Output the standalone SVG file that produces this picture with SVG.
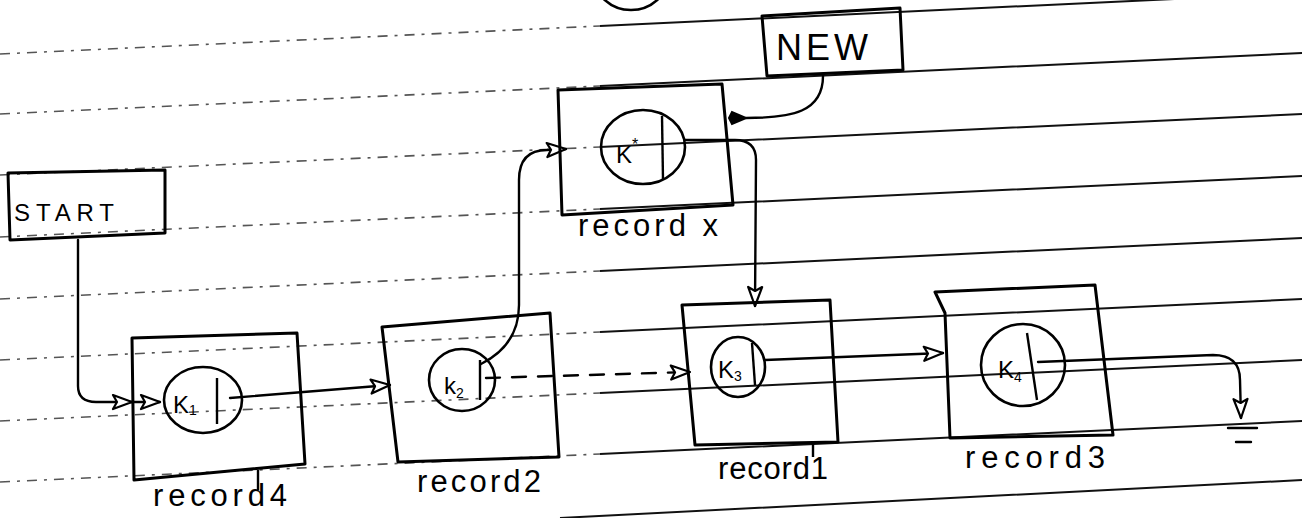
<svg xmlns="http://www.w3.org/2000/svg" width="1302" height="518" viewBox="0 0 1302 518">
<defs>
<style>
.rule-d{stroke:#555;stroke-width:1.6;stroke-dasharray:10 7 3 7;fill:none}
.rule-s{stroke:#111;stroke-width:2;fill:none}
.box{fill:none;stroke:#000;stroke-width:3;stroke-linejoin:round}
.circ{fill:none;stroke:#000;stroke-width:2.6}
.div{stroke:#000;stroke-width:2.4}
.wire{fill:none;stroke:#000;stroke-width:2.4;stroke-linecap:round}
.dash{stroke-dasharray:14 12}
.lbl{font-family:"Liberation Sans",Arial,sans-serif;font-size:31px;fill:#000}
.key{font-family:"Liberation Sans",Arial,sans-serif;font-size:24px;fill:#000}
.cap{font-family:"Liberation Sans",Arial,sans-serif;fill:#000}
</style>
<marker id="open" viewBox="0 0 22 18" refX="21" refY="9" markerWidth="22" markerHeight="18" markerUnits="userSpaceOnUse" orient="auto">
<path d="M2,2 L21,9 L2,16 L6,9 Z" fill="#fff" stroke="#000" stroke-width="2.2" stroke-linejoin="round"/>
</marker>
<marker id="solid" viewBox="0 0 20 16" refX="2" refY="8" markerWidth="20" markerHeight="16" markerUnits="userSpaceOnUse" orient="auto-start-reverse">
<path d="M2,8 L16,2 L19,8 L16,14 Z" fill="#000" stroke="#000" stroke-width="2"/>
</marker>
</defs>
<rect width="1302" height="518" fill="#fff"/>
<g id="ruled-lines">
<path class="rule-d" d="M0,54 L600,26 M0,114 L600,86 M0,175 L600,147 M0,237 L600,209 M0,299 L600,271 M0,360 L600,332 M0,421 L600,393 M0,482 L600,454"/>
<path class="rule-s" d="M600,26 L1302,-7 M600,86 L1302,53 M600,147 L1302,114 M600,209 L1302,176 M600,271 L1302,238 M600,332 L1302,299 M600,393 L1302,360 M600,454 L1302,421 M560,518 L1302,480"/>
<ellipse cx="631" cy="-24" rx="37" ry="34" fill="none" stroke="#000" stroke-width="2.6"/>
</g>
<g id="connectors">
<path class="wire" d="M78,240 L78,386 Q78,402 96,402 L132,402" marker-end="url(#open)"/>
<path class="wire" d="M132,402 L160,402" marker-end="url(#open)"/>
<path class="wire" d="M230,398 L390,385" marker-end="url(#open)"/>
<path class="wire" d="M481,364 C505,352 519,334 519,305 L519,180 Q519,150 547,150 L566,149" marker-end="url(#open)"/>
<path class="wire dash" d="M486,378 L690,372" marker-end="url(#open)"/>
<path class="wire" d="M685,140 L735,140 Q756,140 756,160 L755,306" marker-end="url(#open)"/>
<path class="wire" d="M823,76 C823,112 792,118 746,118" marker-end="url(#solid)"/>
<path class="wire" d="M765,360 L943,353" marker-end="url(#open)"/>
<path class="wire" d="M1038,362 L1213,355 Q1240,355 1240,380 L1241,418" marker-end="url(#open)"/>
<path class="wire" d="M1228,428 L1257,428 M1236,442 L1251,442"/>
</g>
<g id="start">
<path class="box" d="M8,173 L165,170 L165,233 L10,240 Z"/>
<text class="cap" x="14" y="221" font-size="24" textLength="100" lengthAdjust="spacing">START</text>
</g>
<g id="new">
<path class="box" d="M762,16 L900,8 L903,70 L767,76 Z"/>
<text class="cap" x="776" y="60" font-size="36" textLength="92" lengthAdjust="spacing">NEW</text>
</g>
<g id="record-x">
<path class="box" d="M558,90 L722,84 L733,205 L562,215 Z"/>
<ellipse class="circ" cx="643" cy="147" rx="42" ry="37"/>
<line class="div" x1="662" y1="116" x2="663" y2="180"/>
<text class="key" x="616" y="163">K<tspan font-size="16" dy="-13">*</tspan></text>
<text class="lbl" x="578" y="236" textLength="140" lengthAdjust="spacing">record x</text>
</g>
<g id="record4">
<path class="box" d="M132,338 L297,333 L305,464 L134,480 Z"/>
<ellipse class="circ" cx="203" cy="400" rx="39" ry="33"/>
<line class="div" x1="217" y1="378" x2="217" y2="424"/>
<text class="key" x="173" y="413">K<tspan font-size="14" dy="2">1</tspan></text>
<line class="div" x1="258" y1="470" x2="258" y2="490"/>
<text class="lbl" x="153" y="506" textLength="134" lengthAdjust="spacing">record4</text>
</g>
<g id="record2">
<path class="box" d="M382,327 L550,313 L559,457 L398,462 Z"/>
<ellipse class="circ" cx="462" cy="380" rx="33" ry="31"/>
<line class="div" x1="480" y1="360" x2="480" y2="400"/>
<text class="key" x="444" y="394">k<tspan font-size="14" dy="4">2</tspan></text>
<text class="lbl" x="417" y="492" textLength="124" lengthAdjust="spacing">record2</text>
</g>
<g id="record1">
<path class="box" d="M682,305 L830,300 L838,442 L695,445 Z"/>
<ellipse class="circ" cx="738" cy="367" rx="27" ry="30"/>
<line class="div" x1="752" y1="343" x2="755" y2="385"/>
<text class="key" x="718" y="378">K<tspan font-size="14" dy="3">3</tspan></text>
<line class="div" x1="813" y1="443" x2="813" y2="457"/>
<text class="lbl" x="718" y="479" textLength="110" lengthAdjust="spacing">record1</text>
</g>
<g id="record3">
<path class="box" d="M935,292 L1095,285 L1113,435 L950,438 L945,313 Z"/>
<ellipse class="circ" cx="1023" cy="365" rx="42" ry="41"/>
<line class="div" x1="1027" y1="333" x2="1037" y2="400"/>
<text class="key" x="998" y="378">K<tspan font-size="14" dy="4">4</tspan></text>
<text class="lbl" x="965" y="468" textLength="140" lengthAdjust="spacing">record3</text>
</g>
</svg>
